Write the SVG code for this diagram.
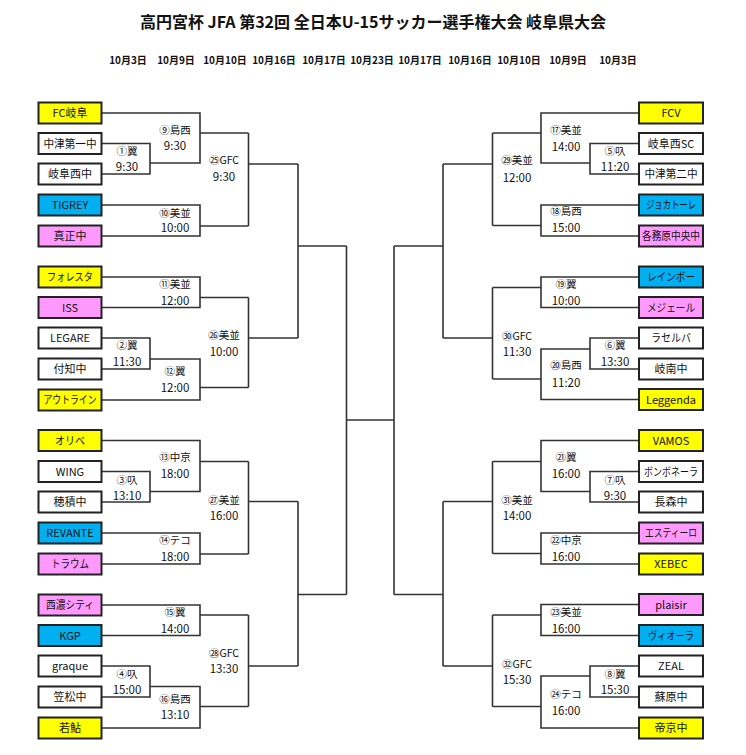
<svg xmlns="http://www.w3.org/2000/svg" width="746" height="755" viewBox="0 0 746 755">
<style>
text{font-family:"Noto Sans CJK JP","Liberation Sans",sans-serif;fill:#111;text-anchor:middle}
.title{font-size:16px;font-weight:bold}
.date{font-size:10px;font-weight:bold}
.box rect{stroke:#222;stroke-width:2}
.box text{font-size:11px}
.w{fill:#fff}.y{fill:#ffff00}.c{fill:#00b0f0}.p{fill:#ff99ff}
.lbl{font-size:10.5px}.tm{font-size:11.5px}
#connectors path{fill:none;stroke:#333;stroke-width:1.6}
</style>
<rect width="746" height="755" fill="#fff"/>
<text class="title" x="373" y="28">高円宮杯 JFA 第32回 全日本U-15サッカー選手権大会 岐阜県大会</text>
<g id="dates">
<text class="date" x="128" y="64">10月3日</text>
<text class="date" x="176" y="64">10月9日</text>
<text class="date" x="225" y="64">10月10日</text>
<text class="date" x="274" y="64">10月16日</text>
<text class="date" x="324" y="64">10月17日</text>
<text class="date" x="372" y="64">10月23日</text>
<text class="date" x="420" y="64">10月17日</text>
<text class="date" x="470" y="64">10月16日</text>
<text class="date" x="519" y="64">10月10日</text>
<text class="date" x="568" y="64">10月9日</text>
<text class="date" x="618" y="64">10月3日</text>
</g>
<g id="connectors">
<path d="M101.5,113 H200 V163 H150 M101.5,143.5 H150 V174 H101.5 M200,133 H248.5"/>
<path d="M101.5,205 H200 V236 H101.5 M200,226 H248.5 M248.5,133 V226 M248.5,164 H298"/>
<path d="M101.5,277 H200 V307.5 H101.5 M200,297.5 H248.5"/>
<path d="M101.5,338 H150 V369 H101.5 M150,359 H200 V400 H101.5 M200,387.5 H248.5"/>
<path d="M248.5,297.5 V387.5 M248.5,338 H298 M298,164 V338 M298,246 H346.5"/>
<path d="M101.5,440.5 H200 V491.5 H150 M101.5,471.5 H150 V502 H101.5 M200,461.5 H248.5"/>
<path d="M101.5,533 H200 V564 H101.5 M200,554 H248.5 M248.5,461.5 V554 M248.5,501.5 H298"/>
<path d="M101.5,605 H200 V635.5 H101.5 M200,615 H248.5"/>
<path d="M101.5,666 H150 V697 H101.5 M150,686.5 H200 V728 H101.5 M200,706.5 H248.5"/>
<path d="M248.5,615 V706.5 M248.5,666 H298 M298,501.5 V666 M298,594.5 H346.5"/>
<path d="M346.5,246 V594.5 M346.5,420 H394 M394,246 V594.5"/>
<path d="M394,246 H443 M443,164 V338 M443,164 H492.5 M492.5,133 V225.5 M443,338 H492.5 M492.5,287.5 V379"/>
<path d="M639,113 H541 V163 H590 M541,133 H492.5 M639,143.5 H590 V174 H639"/>
<path d="M639,205 H541 V236 H639 M541,225.5 H492.5"/>
<path d="M639,277 H541 V307.5 H639 M541,287.5 H492.5"/>
<path d="M639,338 H590 V369 H639 M590,349 H541 V399.5 H639 M541,379 H492.5"/>
<path d="M394,594.5 H443 M443,501.5 V666 M443,501.5 H492.5 M492.5,461.5 V553.5 M443,666 H492.5 M492.5,615 V706.5"/>
<path d="M639,440.5 H541 V491.5 H590 M541,461.5 H492.5 M639,471.5 H590 V502 H639"/>
<path d="M639,533 H541 V564 H639 M541,553.5 H492.5"/>
<path d="M639,604.5 H541 V635.5 H639 M541,615 H492.5"/>
<path d="M639,666 H590 V697 H639 M590,676 H541 V728 H639 M541,706.5 H492.5"/>
</g>
<g id="match-labels">
<text class="lbl" x="175" y="133.5">⑨島西</text><text class="tm" x="175" y="150">9:30</text>
<text class="lbl" x="127" y="154.5">①翼</text><text class="tm" x="127" y="170.5">9:30</text>
<text class="lbl" x="224" y="164">㉕GFC</text><text class="tm" x="224" y="180.5">9:30</text>
<text class="lbl" x="175" y="216.5">⑩美並</text><text class="tm" x="175" y="231.5">10:00</text>
<text class="lbl" x="175" y="287.5">⑪美並</text><text class="tm" x="175" y="304.5">12:00</text>
<text class="lbl" x="127" y="348.5">②翼</text><text class="tm" x="127" y="365.5">11:30</text>
<text class="lbl" x="175" y="375">⑫翼</text><text class="tm" x="175" y="392">12:00</text>
<text class="lbl" x="224" y="339">㉖美並</text><text class="tm" x="224" y="355.5">10:00</text>
<text class="lbl" x="175" y="461">⑬中京</text><text class="tm" x="175" y="478">18:00</text>
<text class="lbl" x="127" y="483.5">③叺</text><text class="tm" x="127" y="499.5">13:10</text>
<text class="lbl" x="175" y="543.5">⑭テコ</text><text class="tm" x="175" y="560.5">18:00</text>
<text class="lbl" x="224" y="503.5">㉗美並</text><text class="tm" x="224" y="519.5">16:00</text>
<text class="lbl" x="175" y="615.5">⑮翼</text><text class="tm" x="175" y="632.5">14:00</text>
<text class="lbl" x="127" y="677.5">④叺</text><text class="tm" x="127" y="693.5">15:00</text>
<text class="lbl" x="175" y="702.5">⑯島西</text><text class="tm" x="175" y="718.5">13:10</text>
<text class="lbl" x="224" y="656.5">㉘GFC</text><text class="tm" x="224" y="673">13:30</text>

<text class="lbl" x="566" y="133.5">⑰美並</text><text class="tm" x="566" y="150.5">14:00</text>
<text class="lbl" x="615" y="154.5">⑤叺</text><text class="tm" x="615" y="170.5">11:20</text>
<text class="lbl" x="517" y="164">㉙美並</text><text class="tm" x="517" y="181.5">12:00</text>
<text class="lbl" x="566" y="215">⑱島西</text><text class="tm" x="566" y="231.5">15:00</text>
<text class="lbl" x="566" y="287.5">⑲翼</text><text class="tm" x="566" y="304.5">10:00</text>
<text class="lbl" x="615" y="348.5">⑥翼</text><text class="tm" x="615" y="365.5">13:30</text>
<text class="lbl" x="566" y="369">⑳島西</text><text class="tm" x="566" y="386.5">11:20</text>
<text class="lbl" x="517" y="339.5">㉚GFC</text><text class="tm" x="517" y="355.5">11:30</text>
<text class="lbl" x="566" y="461">㉑翼</text><text class="tm" x="566" y="478">16:00</text>
<text class="lbl" x="615" y="483.5">⑦叺</text><text class="tm" x="615" y="499.5">9:30</text>
<text class="lbl" x="566" y="543.5">㉒中京</text><text class="tm" x="566" y="560.5">16:00</text>
<text class="lbl" x="517" y="503.5">㉛美並</text><text class="tm" x="517" y="519.5">14:00</text>
<text class="lbl" x="566" y="615.5">㉓美並</text><text class="tm" x="566" y="632.5">16:00</text>
<text class="lbl" x="615" y="677.5">⑧翼</text><text class="tm" x="615" y="693.5">15:30</text>
<text class="lbl" x="566" y="697.5">㉔テコ</text><text class="tm" x="566" y="714.5">16:00</text>
<text class="lbl" x="517" y="667.5">㉜GFC</text><text class="tm" x="517" y="684">15:30</text>
</g>
<g id="team-fc-gifu" class="box"><rect class="y" x="38.5" y="102.5" width="63" height="21"/><text x="70" y="117">FC岐阜</text></g>
<g id="team-nakatsu1" class="box"><rect class="w" x="38.5" y="133" width="63" height="21"/><text x="70" y="147.5" textLength="53" lengthAdjust="spacingAndGlyphs">中津第一中</text></g>
<g id="team-gifunishi" class="box"><rect class="w" x="38.5" y="163.5" width="63" height="21"/><text x="70" y="178">岐阜西中</text></g>
<g id="team-tigrey" class="box"><rect class="c" x="38.5" y="194.5" width="63" height="21"/><text x="70" y="209">TIGREY</text></g>
<g id="team-shinsei" class="box"><rect class="p" x="38.5" y="225.5" width="63" height="21"/><text x="70" y="240">真正中</text></g>
<g id="team-foresta" class="box"><rect class="y" x="38.5" y="266.5" width="63" height="21"/><text x="70" y="281" textLength="46" lengthAdjust="spacingAndGlyphs">フォレスタ</text></g>
<g id="team-iss" class="box"><rect class="p" x="38.5" y="297" width="63" height="21"/><text x="70" y="311.5">ISS</text></g>
<g id="team-legare" class="box"><rect class="w" x="38.5" y="327.5" width="63" height="21"/><text x="70" y="342">LEGARE</text></g>
<g id="team-tsukechi" class="box"><rect class="w" x="38.5" y="358.5" width="63" height="21"/><text x="70" y="373">付知中</text></g>
<g id="team-outline" class="box"><rect class="y" x="38.5" y="389.5" width="63" height="21"/><text x="70" y="404" textLength="53" lengthAdjust="spacingAndGlyphs">アウトライン</text></g>
<g id="team-oribe" class="box"><rect class="y" x="38.5" y="430" width="63" height="21"/><text x="70" y="444.5" textLength="30" lengthAdjust="spacingAndGlyphs">オリベ</text></g>
<g id="team-wing" class="box"><rect class="w" x="38.5" y="461" width="63" height="21"/><text x="70" y="475.5">WING</text></g>
<g id="team-hozumi" class="box"><rect class="w" x="38.5" y="491.5" width="63" height="21"/><text x="70" y="506">穂積中</text></g>
<g id="team-revante" class="box"><rect class="c" x="38.5" y="522.5" width="63" height="21"/><text x="70" y="537">REVANTE</text></g>
<g id="team-traum" class="box"><rect class="p" x="38.5" y="553.5" width="63" height="21"/><text x="70" y="568" textLength="38" lengthAdjust="spacingAndGlyphs">トラウム</text></g>
<g id="team-seino-city" class="box"><rect class="p" x="38.5" y="594.5" width="63" height="21"/><text x="70" y="609" textLength="48" lengthAdjust="spacingAndGlyphs">西濃シティ</text></g>
<g id="team-kgp" class="box"><rect class="c" x="38.5" y="625" width="63" height="21"/><text x="70" y="639.5">KGP</text></g>
<g id="team-graque" class="box"><rect class="w" x="38.5" y="655.5" width="63" height="21"/><text x="70" y="670">graque</text></g>
<g id="team-kasamatsu" class="box"><rect class="w" x="38.5" y="686.5" width="63" height="21"/><text x="70" y="701">笠松中</text></g>
<g id="team-wakaayu" class="box"><rect class="y" x="38.5" y="717.5" width="63" height="21"/><text x="70" y="732">若鮎</text></g>

<g id="team-fcv" class="box"><rect class="y" x="639" y="102.5" width="64" height="21"/><text x="671" y="117">FCV</text></g>
<g id="team-gifunishi-sc" class="box"><rect class="w" x="639" y="133" width="64" height="21"/><text x="671" y="147.5">岐阜西SC</text></g>
<g id="team-nakatsu2" class="box"><rect class="w" x="639" y="163.5" width="64" height="21"/><text x="671" y="178" textLength="53" lengthAdjust="spacingAndGlyphs">中津第二中</text></g>
<g id="team-jogatore" class="box"><rect class="c" x="639" y="194.5" width="64" height="21"/><text x="671" y="209" textLength="50" lengthAdjust="spacingAndGlyphs">ジョカトーレ</text></g>
<g id="team-kakamigahara-chuo" class="box"><rect class="p" x="639" y="225.5" width="64" height="21"/><text x="671" y="240" textLength="58" lengthAdjust="spacingAndGlyphs">各務原中央中</text></g>
<g id="team-rainbow" class="box"><rect class="c" x="639" y="266.5" width="64" height="21"/><text x="671" y="281" textLength="48" lengthAdjust="spacingAndGlyphs">レインボー</text></g>
<g id="team-mejiere" class="box"><rect class="p" x="639" y="297" width="64" height="21"/><text x="671" y="311.5" textLength="48" lengthAdjust="spacingAndGlyphs">メジェール</text></g>
<g id="team-laselva" class="box"><rect class="w" x="639" y="327.5" width="64" height="21"/><text x="671" y="342" textLength="40" lengthAdjust="spacingAndGlyphs">ラセルバ</text></g>
<g id="team-ginan" class="box"><rect class="w" x="639" y="358.5" width="64" height="21"/><text x="671" y="373">岐南中</text></g>
<g id="team-leggenda" class="box"><rect class="y" x="639" y="389" width="64" height="21"/><text x="671" y="403.5">Leggenda</text></g>
<g id="team-vamos" class="box"><rect class="y" x="639" y="430" width="64" height="21"/><text x="671" y="444.5">VAMOS</text></g>
<g id="team-bombonera" class="box"><rect class="w" x="639" y="461" width="64" height="21"/><text x="671" y="475.5" textLength="54" lengthAdjust="spacingAndGlyphs">ボンボネーラ</text></g>
<g id="team-nagamori" class="box"><rect class="w" x="639" y="491.5" width="64" height="21"/><text x="671" y="506">長森中</text></g>
<g id="team-estilo" class="box"><rect class="p" x="639" y="522.5" width="64" height="21"/><text x="671" y="537" textLength="52" lengthAdjust="spacingAndGlyphs">エスティーロ</text></g>
<g id="team-xebec" class="box"><rect class="y" x="639" y="553.5" width="64" height="21"/><text x="671" y="568">XEBEC</text></g>
<g id="team-plaisir" class="box"><rect class="p" x="639" y="594" width="64" height="21"/><text x="671" y="608.5">plaisir</text></g>
<g id="team-viola" class="box"><rect class="c" x="639" y="625" width="64" height="21"/><text x="671" y="639.5" textLength="46" lengthAdjust="spacingAndGlyphs">ヴィオーラ</text></g>
<g id="team-zeal" class="box"><rect class="w" x="639" y="655.5" width="64" height="21"/><text x="671" y="670">ZEAL</text></g>
<g id="team-sohara" class="box"><rect class="w" x="639" y="686.5" width="64" height="21"/><text x="671" y="701">蘇原中</text></g>
<g id="team-teikyo" class="box"><rect class="y" x="639" y="717.5" width="64" height="21"/><text x="671" y="732">帝京中</text></g>
</svg>
